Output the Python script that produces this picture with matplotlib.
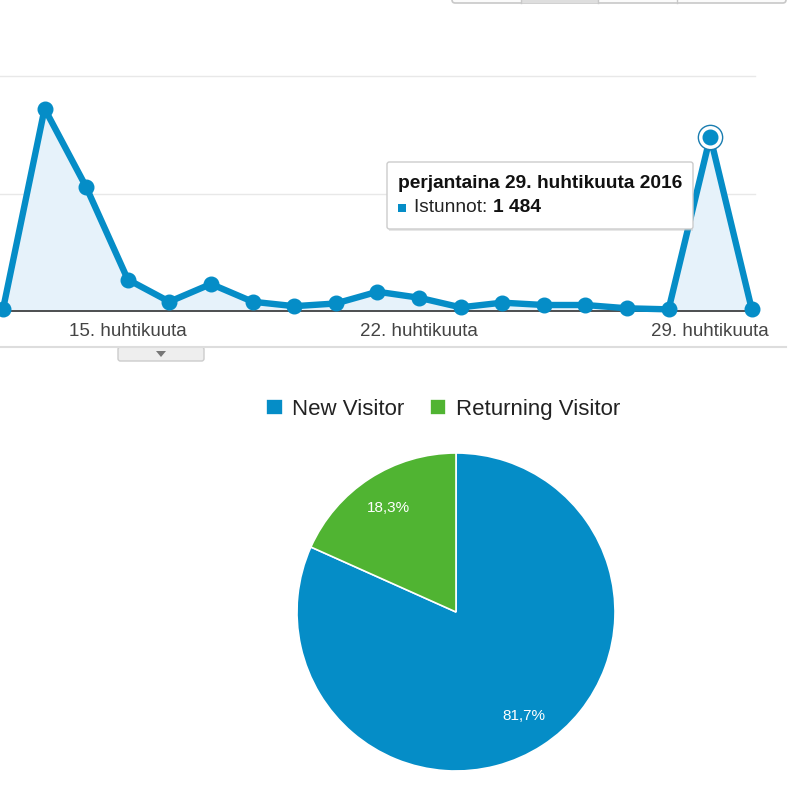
import matplotlib
matplotlib.use("Agg")
import matplotlib.pyplot as plt
from matplotlib.patches import Rectangle, FancyBboxPatch, Polygon
from matplotlib.lines import Line2D

plt.rcParams['font.family'] = ['Liberation Sans', 'DejaVu Sans']

# ---------------- data ----------------
days = [12, 13, 14, 15, 16, 17, 18, 19, 20, 21, 22, 23, 24, 25, 26, 27, 28, 29, 30]
sessions = [15, 1722, 1055, 268, 79, 230, 79, 41, 64, 164, 113, 31, 71, 51, 51, 23, 14, 1484, 14]
tick_days = [15, 22, 29]
tick_labels = ["15. huhtikuuta", "22. huhtikuuta", "29. huhtikuuta"]
y_grid = [1000, 2000]
highlight_day = 29
tooltip_title = "perjantaina 29. huhtikuuta 2016"
metric_name = "Istunnot"

visitor_types = ["New Visitor", "Returning Visitor"]
visitor_share = [81.7, 18.3]

BLUE = "#058DC7"
GREEN = "#50B432"
FILL = "#E6F2FA"

W, H = 800, 798
fig = plt.figure(figsize=(W / 100, H / 100), dpi=100)


def fx(x):
    return x / W


def fy(y):
    return 1 - y / H


# ---------------- line chart ----------------
ax_left, ax_right, ax_top, ax_bot = 0, 755, 76, 311
ax = fig.add_axes([fx(ax_left), fy(ax_bot), (ax_right - ax_left) / W, (ax_bot - ax_top) / H])
px_per_day = 41.6
x0 = 3
ax.set_xlim(days[0] - (x0 - ax_left) / px_per_day, days[0] + (ax_right - x0) / px_per_day)
ax.set_ylim(0, 2000)
ax.fill_between(days, sessions, 0, color=FILL, zorder=1)
ax.plot(days, sessions, color=BLUE, lw=4.6, marker='o', ms=10.5, mfc=BLUE, mec=BLUE,
        solid_joinstyle='round', zorder=3, clip_on=False)
hi = days.index(highlight_day)
ax.plot([days[hi]], [sessions[hi]], 'o', ms=17.5, mfc='white', mec='#1a7db0', mew=1.0,
        zorder=4, clip_on=False)
ax.plot([days[hi]], [sessions[hi]], 'o', ms=10.5, mfc=BLUE, mec=BLUE, zorder=5, clip_on=False)
for g in y_grid:
    ax.axhline(g, color='#e8e8e8', lw=1, zorder=0, clip_on=False)
for s in ['left', 'right', 'top']:
    ax.spines[s].set_visible(False)
ax.spines['bottom'].set_color('#333333')
ax.spines['bottom'].set_linewidth(1.2)
ax.spines['bottom'].set_zorder(2)
ax.set_yticks([])
ax.set_xticks(tick_days)
ax.set_xticklabels(tick_labels, fontsize=13.5, color='#444444')
ax.tick_params(axis='x', length=0, pad=9)
ax.patch.set_alpha(0)

# tooltip
tip = FancyBboxPatch((fx(389), fy(231)), (693 - 389) / W, (231 - 162) / H,
                     boxstyle="square,pad=0", transform=fig.transFigure,
                     fc='#bbbbbb', ec='none', alpha=0.35, zorder=9)
fig.patches.append(tip)
tip = FancyBboxPatch((fx(387), fy(229)), (693 - 387) / W, (229 - 162) / H,
                     boxstyle="round,pad=0,rounding_size=0.003", transform=fig.transFigure,
                     fc='white', ec='#cccccc', lw=1, zorder=10)
fig.patches.append(tip)
fig.text(fx(398), fy(183), tooltip_title, fontsize=13.8, fontweight='bold', color='#111111',
         va='center', ha='left', zorder=11)
fig.patches.append(Rectangle((fx(398), fy(212)), 8 / W, 8 / H, transform=fig.transFigure,
                             fc=BLUE, ec='none', zorder=11))
t1 = fig.text(fx(414), fy(208), f"{metric_name}: ", fontsize=13.8, color='#222222',
              va='center', ha='left', zorder=11)
val_str = f"{sessions[hi]:,}".replace(",", " ")
fig.canvas.draw()
bb = t1.get_window_extent()
fig.text(bb.x1 / W, fy(208), val_str, fontsize=13.8, fontweight='bold', color='#111111',
         va='center', ha='left', zorder=11)

# separator line and tab under chart
fig.add_artist(Line2D([0, fx(786)], [fy(347), fy(347)], color='#dddddd', lw=1.5,
                      transform=fig.transFigure))
fig.patches.append(FancyBboxPatch((fx(118), fy(361)), 86 / W, 14 / H,
                                  boxstyle="round,pad=0,rounding_size=0.003",
                                  transform=fig.transFigure, fc='#eeeeee', ec='#cccccc', lw=1))
fig.patches.append(Polygon([(fx(156), fy(351)), (fx(166), fy(351)), (fx(161), fy(357))],
                           closed=True, transform=fig.transFigure, fc='#777777', ec='none'))

# top-right button group
fig.patches.append(FancyBboxPatch((fx(452), fy(3)), (786 - 452) / W, 10 / H,
                                  boxstyle="round,pad=0,rounding_size=0.004",
                                  transform=fig.transFigure, fc='#fbfbfb', ec='#c8c8c8', lw=1.2))
fig.patches.append(Rectangle((fx(521), fy(3)), (598 - 521) / W, 6 / H,
                             transform=fig.transFigure, fc='#dedede', ec='none'))
for bx in [521, 598, 677]:
    fig.add_artist(Line2D([fx(bx), fx(bx)], [fy(3), 1], color='#c8c8c8', lw=1,
                          transform=fig.transFigure))

# ---------------- pie chart ----------------
cx, cy, r = 456, 612, 159
pax = fig.add_axes([fx(cx - r), fy(cy + r), 2 * r / W, 2 * r / H])
wedges, _, autotexts = pax.pie(
    visitor_share, colors=[BLUE, GREEN], startangle=90, counterclock=False, radius=1,
    autopct=lambda p: f"{p:.1f}%".replace(".", ","), pctdistance=0.78,
    wedgeprops=dict(edgecolor='white', linewidth=1.2),
    textprops=dict(color='white', fontsize=11))
pax.set_xlim(-1, 1)
pax.set_ylim(-1, 1)
pax.set_aspect('equal')
pax.axis('off')

fig.legend(wedges, visitor_types, loc='center', bbox_to_anchor=(fx(443), fy(409)), ncol=2,
           frameon=False, fontsize=16, handlelength=0.75, handleheight=0.75,
           handletextpad=0.42, columnspacing=1.15, labelcolor='#222222')

fig.savefig("out.png", dpi=100)
